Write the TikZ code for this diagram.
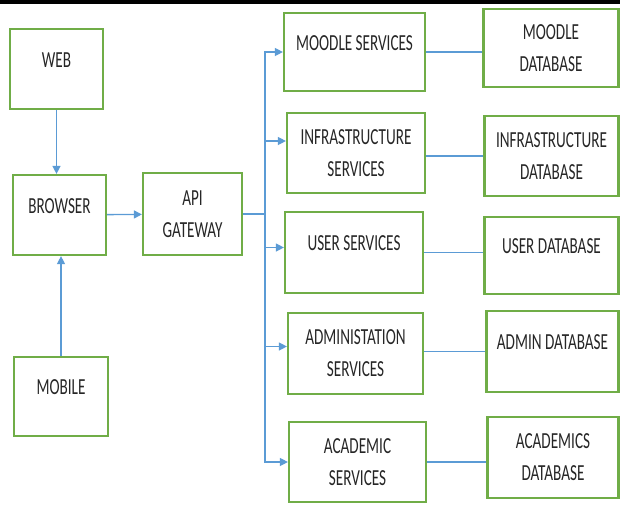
\documentclass[tikz,border=0pt]{standalone}
\usepackage{fontspec}
\setmainfont[FakeStretch=0.66]{Carlito}
\usepackage{xcolor}
\usepackage{tikz}
\usetikzlibrary{arrows.meta}
\definecolor{boxgreen}{RGB}{112,173,71}
\definecolor{linkblue}{RGB}{91,155,213}
\definecolor{txtgray}{RGB}{38,38,38}
\tikzset{
    box/.style={draw=boxgreen, line width=2.2pt, align=center, text=txtgray, inner sep=0pt,
        font=\fontsize{23}{32}\selectfont},
    oneline/.style={text depth=18pt},
    link/.style={color=linkblue, line width=1.3pt},
    arr/.style={link, -{Triangle[length=8pt,width=8pt]}}
}

\begin{document}
\begin{tikzpicture}[x=1pt,y=-1pt]
                \useasboundingbox (0,0) rectangle (620,504);
                \fill[black] (0,0) rectangle (620,3.5);
                \node[box, oneline, minimum width=93pt, minimum height=80pt] at (56.5,69) (web) {WEB};
                \node[box, oneline, minimum width=93pt, minimum height=80pt] at (59.5,215) (browser) {BROWSER};
                \node[box, oneline, minimum width=94pt, minimum height=79pt] at (61,396.5) (mobile) {MOBILE};
                \node[box, minimum width=99pt, minimum height=82pt] at (192.5,214) (api) {API\\GATEWAY};
                \node[box, oneline, minimum width=141pt, minimum height=78pt] at (354.5,52) (moodleS) {MOODLE SERVICES};
                \node[box, minimum width=138pt, minimum height=80pt] at (356,153) (infraS) {INFRASTRUCTURE\\SERVICES};
                \node[box, oneline, minimum width=138pt, minimum height=81pt] at (354,252.5) (userS) {USER SERVICES};
                \node[box, minimum width=135pt, minimum height=81pt] at (355.5,353.5) (adminS) {ADMINISTATION\\SERVICES};
                \node[box, minimum width=137pt, minimum height=80pt] at (357.5,462) (acadS) {ACADEMIC\\SERVICES};
                \node[box, minimum width=135pt, minimum height=78pt] at (551,48) (moodleD) {MOODLE\\DATABASE};
                \node[box, minimum width=134pt, minimum height=80pt] at (551.5,156) (infraD) {INFRASTRUCTURE\\DATABASE};
                \node[box, oneline, minimum width=134pt, minimum height=77pt] at (551.5,255.5) (userD) {USER DATABASE};
                \node[box, oneline, minimum width=132pt, minimum height=81pt] at (552.5,351.5) (adminD) {ADMIN DATABASE};
                \node[box, minimum width=131pt, minimum height=81pt] at (553,457.5) (acadD) {ACADEMICS\\DATABASE};
                \coordinate (bus) at (265,214);
                \path[arr]
                    (web.south) edge (web.south |- browser.north)
                    (mobile.north) edge (mobile.north |- browser.south)
                    (browser) edge (api);
                \draw[link] (api.east) -- (bus);
                \draw[arr] (bus) |- (moodleS.west);
                \draw[arr] (bus) |- ([yshift=12pt]infraS.west);
                \draw[arr] (bus) |- ([yshift=5pt]userS.west);
                \draw[arr] (bus) |- ([yshift=7pt]adminS.west);
                \draw[arr] (bus) |- (acadS.west);
                \path[link]
                    (moodleS.east) edge (moodleS.east -| moodleD.west)
                    ([yshift=-3pt]infraS.east) edge ([yshift=-3pt]infraS.east -| infraD.west)
                    (userS.east) edge (userS.east -| userD.west)
                    ([yshift=2pt]adminS.east) edge ([yshift=2pt]adminS.east -| adminD.west)
                    (acadS.east) edge (acadS.east -| acadD.west);
\end{tikzpicture}
\end{document}
